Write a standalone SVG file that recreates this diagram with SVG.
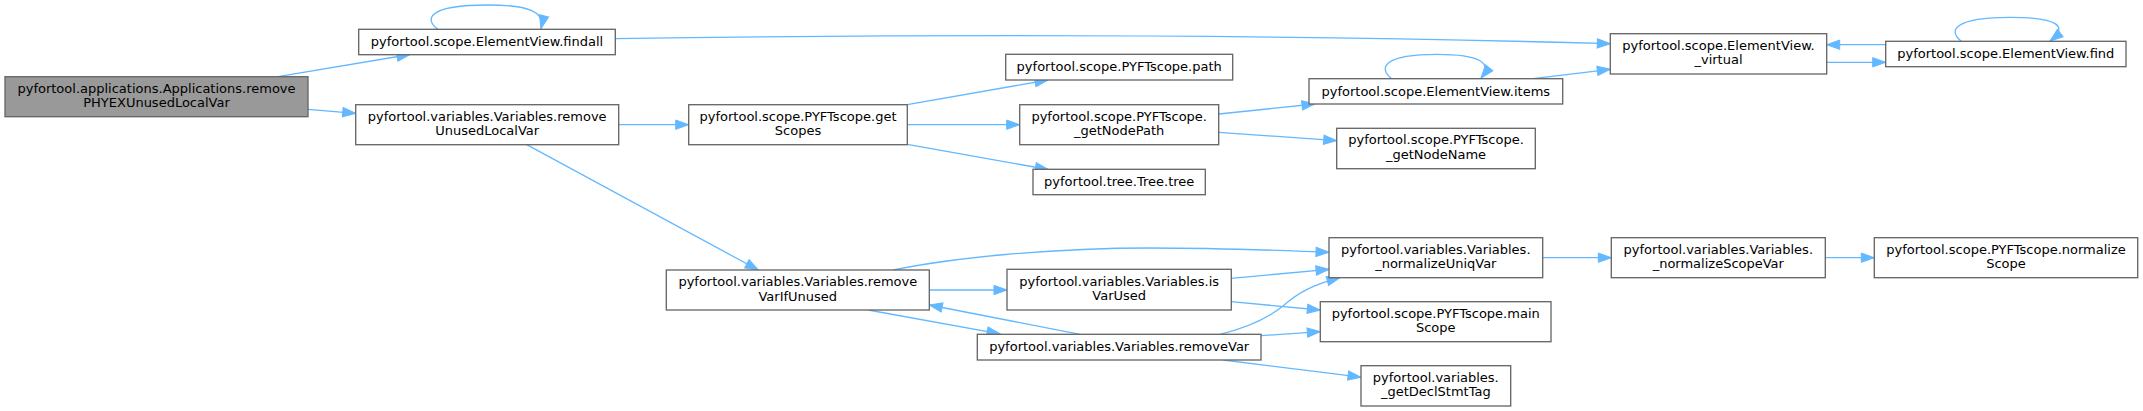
<svg xmlns="http://www.w3.org/2000/svg" width="2143" height="411" viewBox="0 0 2143 411">
<style>
.n rect{fill:#ffffff;stroke:#666666;stroke-width:1.33}
.n.root rect{fill:#999999}
.n text{font-family:"DejaVu Sans",sans-serif;font-size:13px;fill:#000000;text-anchor:middle}
.e path{fill:none;stroke:#63b8ff;stroke-width:1.33;marker-end:url(#ah)}
</style>
<defs>
<marker id="ah" markerUnits="userSpaceOnUse" markerWidth="15" markerHeight="11" refX="13" refY="4.67" orient="auto" overflow="visible">
<path d="M0,0 L13,4.67 L0,9.33 Z" fill="#63b8ff" stroke="#63b8ff" stroke-width="1"/>
</marker>
</defs>
<rect width="2143" height="411" fill="#ffffff"/>
<g id="edges" class="e">
<path d="M278,76.7 L410,54.5"/>
<path d="M308,109.3 L355.7,113.3"/>
<path d="M438,29.3 C425,20 425,5 488,5 C530,5 545,12 541,28.5"/>
<path d="M615.3,38.7 C1000,33 1300,35 1610.3,43.7"/>
<path d="M618.7,124.7 L688.7,124.7"/>
<path d="M526.7,144.7 L758.3,270"/>
<path d="M907.3,104.7 L1048,80"/>
<path d="M907.3,124.7 L1019.7,124.7"/>
<path d="M907.3,144.3 L1048.3,169.5"/>
<path d="M1218.7,114 L1315,104"/>
<path d="M1218.7,132.3 L1336.7,140.7"/>
<path d="M1391.7,78.7 C1378,68 1383,54.3 1437,54.3 C1480,54.3 1493,63 1481,78"/>
<path d="M1533,78.7 L1610.3,69.3"/>
<path d="M1826.7,62.3 L1885.7,62.3"/>
<path d="M1885.7,44.7 L1826.7,44.7"/>
<path d="M1961.3,41.3 C1948,31 1953,17.3 2010,17.3 C2060,17.3 2068,27 2050,41"/>
<path d="M893.3,270 C950,258 1050,248 1150,248 C1230,248 1290,251 1329,252.3"/>
<path d="M929.3,290 L1007,290"/>
<path d="M1080,334.3 L929.3,305"/>
<path d="M868.3,310 L1000,333.8"/>
<path d="M1231.3,278.3 L1329,269.3"/>
<path d="M1231.3,301.7 L1320.3,310"/>
<path d="M1220,334.3 C1250,327 1268,318 1283,306 C1298,293 1312,285 1340,277.7"/>
<path d="M1261,335.7 L1320.3,331.7"/>
<path d="M1223.3,360 L1361,377.2"/>
<path d="M1542.7,257.7 L1611.3,257.7"/>
<path d="M1825.3,257.7 L1874.3,257.7"/>
</g>
<g id="node_main" class="n root"><rect x="5" y="76.7" width="303" height="40"/><text x="156.5" y="92.7">pyfortool.applications.Applications.remove</text><text x="156.5" y="107.4">PHYEXUnusedLocalVar</text></g>
<g id="node_findall" class="n"><rect x="358.7" y="29.3" width="256.6" height="25.4"/><text x="487" y="46.3">pyfortool.scope.ElementView.findall</text></g>
<g id="node_removeUnusedLocalVar" class="n"><rect x="355.7" y="104.7" width="263" height="40"/><text x="487.2" y="120.7">pyfortool.variables.Variables.remove</text><text x="487.2" y="135.4">UnusedLocalVar</text></g>
<g id="node_getScopes" class="n"><rect x="688.7" y="104.7" width="218.6" height="40"/><text x="798" y="120.7">pyfortool.scope.PYFTscope.get</text><text x="798" y="135.4">Scopes</text></g>
<g id="node_removeVarIfUnused" class="n"><rect x="666.3" y="270" width="263" height="40"/><text x="797.8" y="286">pyfortool.variables.Variables.remove</text><text x="797.8" y="300.7">VarIfUnused</text></g>
<g id="node_path" class="n"><rect x="1005.7" y="54.3" width="227" height="25.7"/><text x="1119.2" y="71.3">pyfortool.scope.PYFTscope.path</text></g>
<g id="node_getNodePath" class="n"><rect x="1019.7" y="104.7" width="199" height="40"/><text x="1119.2" y="120.7">pyfortool.scope.PYFTscope.</text><text x="1119.2" y="135.4">_getNodePath</text></g>
<g id="node_tree" class="n"><rect x="1033" y="169.3" width="172.3" height="25.4"/><text x="1119.2" y="186.3">pyfortool.tree.Tree.tree</text></g>
<g id="node_isVarUsed" class="n"><rect x="1007" y="269.3" width="224.3" height="40.7"/><text x="1119.2" y="285.6">pyfortool.variables.Variables.is</text><text x="1119.2" y="300.3">VarUsed</text></g>
<g id="node_removeVar" class="n"><rect x="977.3" y="334.3" width="283.7" height="25.7"/><text x="1119.2" y="351.3">pyfortool.variables.Variables.removeVar</text></g>
<g id="node_items" class="n"><rect x="1309" y="78.7" width="253.7" height="25.3"/><text x="1435.8" y="95.7">pyfortool.scope.ElementView.items</text></g>
<g id="node_getNodeName" class="n"><rect x="1336.7" y="128.3" width="198.6" height="40.4"/><text x="1436" y="144.3">pyfortool.scope.PYFTscope.</text><text x="1436" y="159">_getNodeName</text></g>
<g id="node_normalizeUniqVar" class="n"><rect x="1329" y="237.7" width="213.7" height="40"/><text x="1435.8" y="253.7">pyfortool.variables.Variables.</text><text x="1435.8" y="268.4">_normalizeUniqVar</text></g>
<g id="node_mainScope" class="n"><rect x="1320.3" y="301.7" width="230.7" height="40"/><text x="1435.7" y="317.7">pyfortool.scope.PYFTscope.main</text><text x="1435.7" y="332.4">Scope</text></g>
<g id="node_getDeclStmtTag" class="n"><rect x="1361" y="365.7" width="149.7" height="40.3"/><text x="1435.8" y="381.7">pyfortool.variables.</text><text x="1435.8" y="396.4">_getDeclStmtTag</text></g>
<g id="node_virtual" class="n"><rect x="1610.3" y="33.7" width="216.4" height="40.3"/><text x="1718.5" y="49.7">pyfortool.scope.ElementView.</text><text x="1718.5" y="64.4">_virtual</text></g>
<g id="node_find" class="n"><rect x="1885.7" y="41.3" width="240.3" height="25.4"/><text x="2005.8" y="58.3">pyfortool.scope.ElementView.find</text></g>
<g id="node_normalizeScopeVar" class="n"><rect x="1611.3" y="237.7" width="214" height="40"/><text x="1718.3" y="253.7">pyfortool.variables.Variables.</text><text x="1718.3" y="268.4">_normalizeScopeVar</text></g>
<g id="node_normalizeScope" class="n"><rect x="1874.3" y="237.7" width="263.4" height="40"/><text x="2006" y="253.7">pyfortool.scope.PYFTscope.normalize</text><text x="2006" y="268.4">Scope</text></g>
</svg>
